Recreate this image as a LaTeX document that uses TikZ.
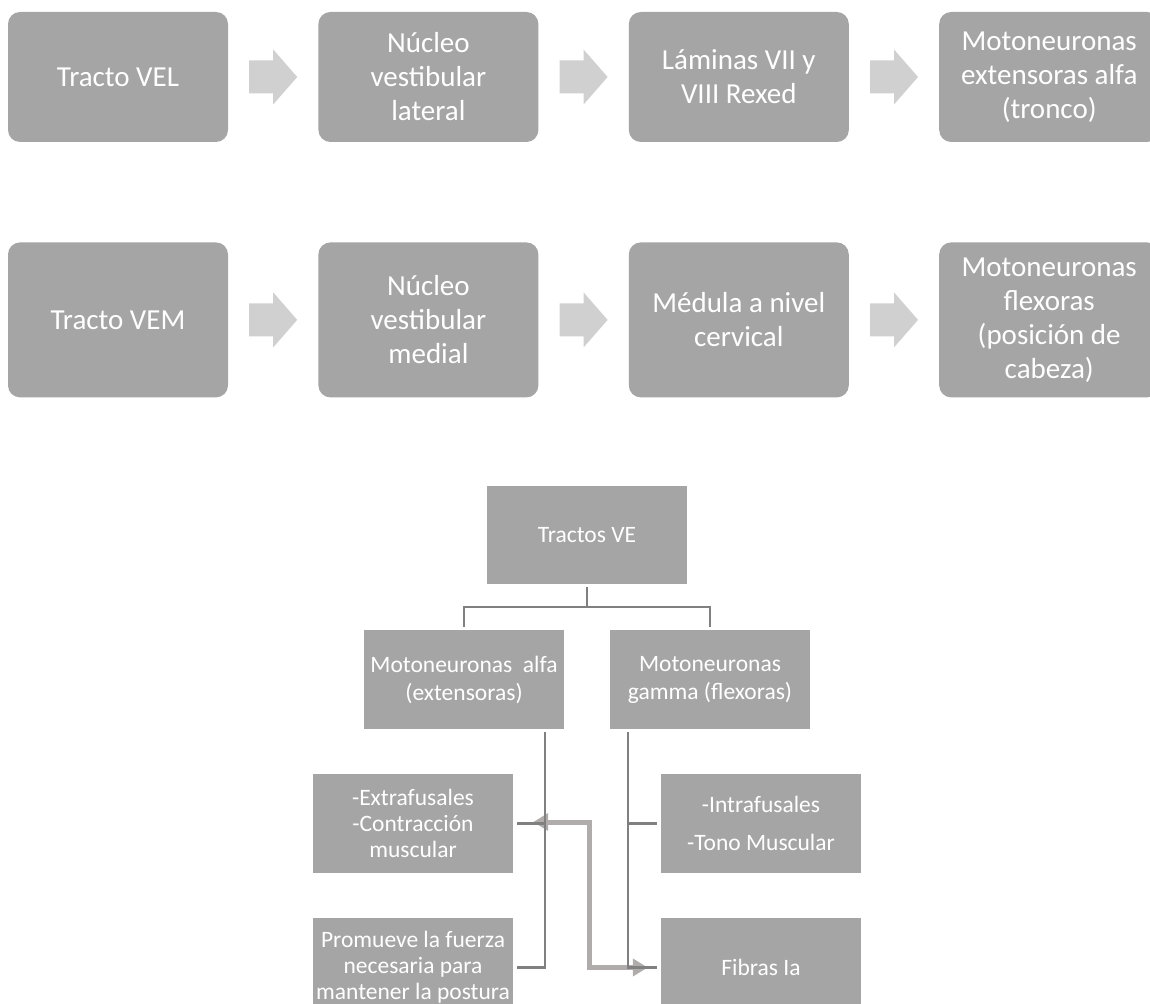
\documentclass[tikz,border=0pt]{standalone}
\usepackage{fontspec}
\setmainfont{Carlito}
\usepackage{xcolor}
\usepackage{tikz}
\usetikzlibrary{arrows.meta, calc, positioning}

\definecolor{cajagris}{HTML}{A5A5A5}
\definecolor{flechaclara}{HTML}{D0D0D0}
\definecolor{lineagris}{HTML}{808080}
\definecolor{gruesogris}{HTML}{B0ACAC}

% block arrow between two boxes of a row
\newcommand{\flecha}[2]{%
  \fill[flechaclara] ($(#1.east)!0.5!(#2.west)$) ++(-24,-16.5) -- ++(24,0) -- ++(0,-11)
    -- ++(24,27.5) -- ++(-24,27.5) -- ++(0,-11) -- ++(-24,0) -- cycle;}

\begin{document}
\begin{tikzpicture}[
    x=1pt, y=-1pt,
    caja/.style={rectangle, rounded corners=12pt, fill=cajagris, text=white, align=center,
        inner sep=0pt, minimum width=220pt, font=\fontsize{29pt}{34pt}\selectfont},
    cajabaja/.style={rectangle, fill=cajagris, text=white, align=center, inner sep=0pt,
        minimum width=200pt, minimum height=99pt, font=\fontsize{23.5pt}{26pt}\selectfont},
    linea/.style={draw=lineagris, line width=2.4pt},
    grueso/.style={draw=gruesogris, line width=5pt,
        {Triangle[length=15pt, width=17pt]}-{Triangle[length=15pt, width=17pt]}}
]
    \useasboundingbox (0,0) rectangle (1150,1003);

    % 1. Tracto vestibuloespinal lateral
    \node[caja, minimum height=130pt] (vel) at (118,77) {Tracto VEL};
    \node[caja, minimum height=130pt, right=90pt of vel] (nlat) {Núcleo\\vestibular\\lateral};
    \node[caja, minimum height=130pt, right=90pt of nlat] (laminas) {Láminas VII y\\VIII Rexed};
    \node[caja, minimum height=130pt, right=90pt of laminas] (mext) {Motoneuronas\\extensoras alfa\\(tronco)};
    \flecha{vel}{nlat}
    \flecha{nlat}{laminas}
    \flecha{laminas}{mext}

    % 2. Tracto vestibuloespinal medial
    \node[caja, minimum height=155pt, below=100pt of vel] (vem) {Tracto VEM};
    \node[caja, minimum height=155pt, right=90pt of vem] (nmed) {Núcleo\\vestibular\\medial};
    \node[caja, minimum height=155pt, right=90pt of nmed] (medula) {Médula a nivel\\cervical};
    \node[caja, minimum height=155pt, right=90pt of medula] (mflex) {Motoneuronas\\flexoras\\(posición de\\cabeza)};
    \flecha{vem}{nmed}
    \flecha{nmed}{medula}
    \flecha{medula}{mflex}

    % 3. Organigrama de los tractos VE
    \node[cajabaja, minimum height=98pt] (ve) at (587,535) {Tractos VE};
    \node[cajabaja, font=\fontsize{23.5pt}{28pt}\selectfont] (alfa) at (464,679.5) {Motoneuronas\ \ alfa\\(extensoras)};
    \node[cajabaja, font=\fontsize{23.5pt}{28pt}\selectfont] (gamma) at (710,679.5) {Motoneuronas\\gamma (flexoras)};
    \node[cajabaja] (extra) at (413,823.5) {-Extrafusales\\-Contracción\\muscular};
    \node[cajabaja] (intra) at (761,823.5) {-Intrafusales\\[12.5pt]-Tono Muscular};
    \node[cajabaja] (prom) at (413,967.5) {Promueve la fuerza\\necesaria para\\mantener la postura};
    \node[cajabaja] (fibras) at (761,967.5) {Fibras Ia};

    % 4. Retroalimentacion de las fibras Ia
    \draw[grueso] ([xshift=20pt, yshift=1.5pt]extra.east) -- ++(56,0) |- ([xshift=-13pt]fibras.west);

    % 5. Conectores
    \draw[linea] ([yshift=-3pt]ve.south) -- ++(0,20) coordinate (rama) -| ([yshift=3pt]alfa.north);
    \draw[linea] (rama) -| ([yshift=3pt]gamma.north);
    \coordinate (alfabaja) at ([xshift=-19pt, yshift=-3pt]alfa.south east);
    \coordinate (gammabaja) at ([xshift=18pt, yshift=-3pt]gamma.south west);
    \draw[linea] (alfabaja) |- ([xshift=4pt]prom.east);
    \draw[linea] ([xshift=4pt]extra.east) -- (extra.east -| alfabaja);
    \draw[linea] (gammabaja) |- ([xshift=-4pt]fibras.west);
    \draw[linea] ([xshift=-4pt]intra.west) -- (intra.west -| gammabaja);

\end{tikzpicture}
\end{document}
